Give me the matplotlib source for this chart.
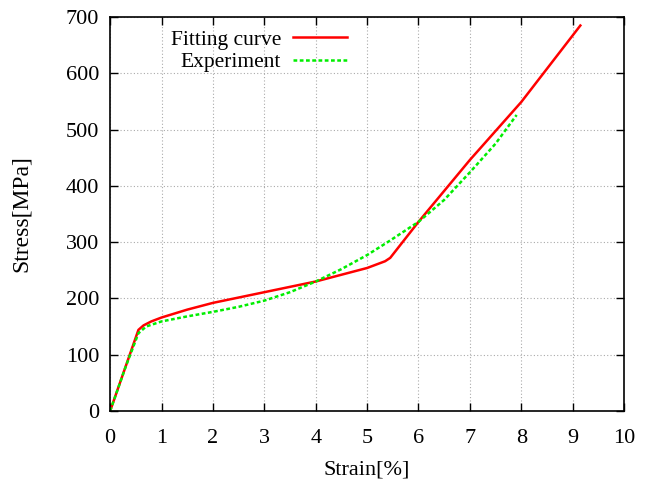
import matplotlib
matplotlib.use("Agg")
import matplotlib.pyplot as plt

plt.rcParams['font.family'] = ['Liberation Serif', 'DejaVu Serif']

fit_x = [0, 0.55, 0.65, 0.8, 1.0, 1.5, 2.0, 3.0, 4.0, 5.0, 5.35, 5.45, 6.0, 7.0, 8.0, 9.15]
fit_y = [0, 144, 152, 159, 166, 180, 192, 211, 230, 254, 266, 272, 336, 446, 549, 685]
exp_x = [0, 0.3, 0.55, 0.7, 1.0, 1.5, 2.0, 2.5, 3.0, 3.5, 4.0, 4.5, 5.0, 5.4, 6.0, 6.5, 7.0, 7.5, 7.91]
exp_y = [0, 78, 138, 150, 159, 168, 176, 185, 196, 211, 230, 252, 277, 300, 336, 375, 424, 475, 526]

fig = plt.figure(figsize=(6.48, 4.88), dpi=100)
ax = fig.add_axes([0.17, 0.158, 0.793, 0.807])
ax.plot(fit_x, fit_y, color='#ff0000', lw=1.8, label='Fitting curve')
ax.plot(exp_x, exp_y, color='#00ee00', lw=1.8, ls=(0, (1.5, 1)), label='Experiment')
ax.set_xlim(0, 10)
ax.set_ylim(0, 700)
ax.set_xticks(range(0, 11))
ax.set_yticks(range(0, 701, 100))
ax.tick_params(direction='in', top=True, right=True, labelsize=16, length=6, width=1)
ax.tick_params(axis='x', pad=13)
ax.tick_params(axis='y', pad=8)
ax.grid(True, color='#aaaaaa', ls=(0, (1, 2)), lw=0.8)
for s in ax.spines.values():
    s.set_linewidth(1.2)
ax.set_xlabel('Strain[%]', fontsize=16, labelpad=9)
ax.set_ylabel('Stress[MPa]', fontsize=17, labelpad=24)
leg = ax.legend(loc='upper right', bbox_to_anchor=(0.477, 0.99), frameon=False, markerfirst=False,
                fontsize=15.5, handlelength=2.5, handletextpad=0.55, labelspacing=0.12, borderaxespad=0)
for t in leg.get_texts():
    t.set_ha('right')
fig.savefig('out.png', dpi=100)
